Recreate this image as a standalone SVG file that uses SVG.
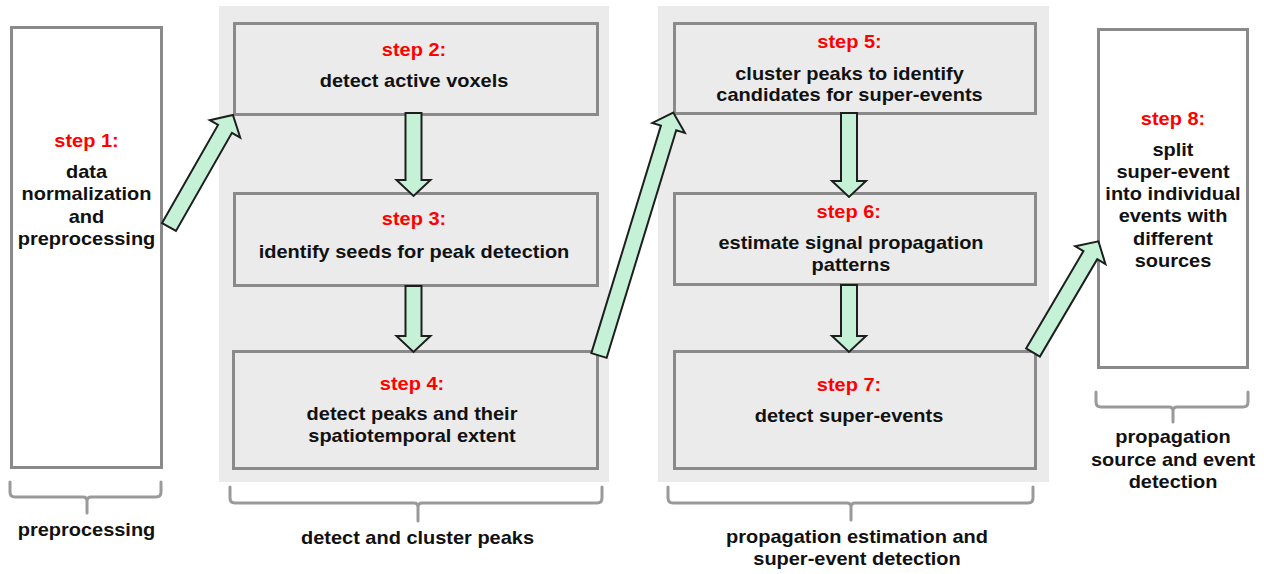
<svg xmlns="http://www.w3.org/2000/svg" width="1269" height="574" viewBox="0 0 1269 574">
  <style>
    .panel { fill: #ebebeb; stroke: none; }
    .box { fill: #ebebeb; stroke: #8a8a8a; stroke-width: 3; }
    .box-white { fill: #ffffff; stroke: #8a8a8a; stroke-width: 3; }
    .brace { fill: none; stroke: #9a9a9a; stroke-width: 3; stroke-linecap: round; stroke-linejoin: round; }
    .arrow { fill: #c5f2d7; stroke: #1e1e1e; stroke-width: 2; stroke-linejoin: miter; }
    text { font-family: "Liberation Sans", Arial, Helvetica, sans-serif; font-weight: bold; font-size: 18px; text-anchor: middle; fill: #111111; }
    .step { fill: #ff0000; }
  </style>

  <rect width="1269" height="574" fill="#ffffff"/>

  <!-- stage panels -->
  <g id="panels">
    <rect class="panel" x="219" y="6" width="390" height="476"/>
    <rect class="panel" x="658" y="6" width="391" height="476"/>
  </g>

  <!-- step 1 -->
  <g id="step1">
    <rect class="box-white" x="11.5" y="27.5" width="150" height="440"/>
    <g transform="translate(86.5,0) scale(1.11,1)">
      <text class="step" x="0" y="147">step 1:</text>
      <text x="0" y="178">data</text>
      <text x="0" y="200.5">normalization</text>
      <text x="0" y="223">and</text>
      <text x="0" y="245.5">preprocessing</text>
    </g>
  </g>

  <!-- step 2 -->
  <g id="step2">
    <rect class="box" x="234.5" y="23.5" width="363" height="91"/>
    <g transform="translate(414,0) scale(1.11,1)">
      <text class="step" x="0" y="56">step 2:</text>
      <text x="0" y="87">detect active voxels</text>
    </g>
  </g>

  <!-- step 3 -->
  <g id="step3">
    <rect class="box" x="234.5" y="193.5" width="363" height="92"/>
    <g transform="translate(414,0) scale(1.11,1)">
      <text class="step" x="0" y="225">step 3:</text>
      <text x="0" y="258">identify seeds for peak detection</text>
    </g>
  </g>

  <!-- step 4 -->
  <g id="step4">
    <rect class="box" x="233.5" y="351.5" width="364" height="117"/>
    <g transform="translate(412,0) scale(1.11,1)">
      <text class="step" x="0" y="390">step 4:</text>
      <text x="0" y="420.5">detect peaks and their</text>
      <text x="0" y="442.5">spatiotemporal extent</text>
    </g>
  </g>

  <!-- step 5 -->
  <g id="step5">
    <rect class="box" x="674.5" y="23.5" width="361" height="90"/>
    <g transform="translate(849.5,0) scale(1.11,1)">
      <text class="step" x="0" y="48.5">step 5:</text>
      <text x="0" y="80">cluster peaks to identify</text>
      <text x="0" y="101">candidates for super-events</text>
    </g>
  </g>

  <!-- step 6 -->
  <g id="step6">
    <rect class="box" x="674.5" y="193.5" width="361" height="91"/>
    <g transform="translate(851,0) scale(1.11,1)">
      <text class="step" x="-2" y="218">step 6:</text>
      <text x="0" y="249">estimate signal propagation</text>
      <text x="0" y="271">patterns</text>
    </g>
  </g>

  <!-- step 7 -->
  <g id="step7">
    <rect class="box" x="674.5" y="351.5" width="361" height="117"/>
    <g transform="translate(849,0) scale(1.11,1)">
      <text class="step" x="0" y="391">step 7:</text>
      <text x="0" y="422">detect super-events</text>
    </g>
  </g>

  <!-- step 8 -->
  <g id="step8">
    <rect class="box-white" x="1098.5" y="29.5" width="149" height="338"/>
    <g transform="translate(1173,0) scale(1.11,1)">
      <text class="step" x="0" y="125.5">step 8:</text>
      <text x="0" y="156.5">split</text>
      <text x="0" y="178.5">super-event</text>
      <text x="0" y="200.5">into individual</text>
      <text x="0" y="222.5">events with</text>
      <text x="0" y="245">different</text>
      <text x="0" y="267">sources</text>
    </g>
  </g>

  <!-- stage braces and captions -->
  <g id="stage-preprocessing">
    <path class="brace" d="M10,482 V492 Q10,497 15,497 H83 Q87,497 87,501 V513 M87,501 Q87,497 91,497 H156 Q161,497 161,492 V482"/>
    <g transform="translate(86.5,0) scale(1.11,1)">
      <text x="0" y="536">preprocessing</text>
    </g>
  </g>

  <g id="stage-peaks">
    <path class="brace" d="M230,487 V498 Q230,503 235,503 H414 Q418,503 418,507 V521 M418,507 Q418,503 422,503 H597 Q602,503 602,498 V487"/>
    <g transform="translate(417.5,0) scale(1.11,1)">
      <text x="0" y="544">detect and cluster peaks</text>
    </g>
  </g>

  <g id="stage-propagation">
    <path class="brace" d="M668,487 V498 Q668,503 673,503 H847 Q851,503 851,507 V520 M851,507 Q851,503 855,503 H1028 Q1033,503 1033,498 V487"/>
    <g transform="translate(857,0) scale(1.11,1)">
      <text x="0" y="543">propagation estimation and</text>
      <text x="0" y="565">super-event detection</text>
    </g>
  </g>

  <g id="stage-source">
    <path class="brace" d="M1096,392 V402 Q1096,407 1101,407 H1169 Q1173,407 1173,411 V422 M1173,411 Q1173,407 1177,407 H1243 Q1248,407 1248,402 V392"/>
    <g transform="translate(1173,0) scale(1.11,1)">
      <text x="0" y="443">propagation</text>
      <text x="0" y="466">source and event</text>
      <text x="0" y="488">detection</text>
    </g>
  </g>

  <!-- block arrows between steps -->
  <g id="connectors">
    <path class="arrow" transform="translate(169,227) rotate(-60.3)" d="M0,-8 H113 V-17.5 L129,0 L113,17.5 V8 H0 Z"/>
    <path class="arrow" transform="translate(413.5,113) rotate(90)" d="M0,-8 H67 V-17 L83,0 L67,17 V8 H0 Z"/>
    <path class="arrow" transform="translate(413.5,286) rotate(90)" d="M0,-8 H50 V-17 L66,0 L50,17 V8 H0 Z"/>
    <path class="arrow" transform="translate(599,355.5) rotate(-73)" d="M0,-8 H238 V-17 L254,0 L238,17 V8 H0 Z"/>
    <path class="arrow" transform="translate(849,113) rotate(90)" d="M0,-8 H68 V-17 L84,0 L68,17 V8 H0 Z"/>
    <path class="arrow" transform="translate(849,285) rotate(90)" d="M0,-8 H51 V-17 L67,0 L51,17 V8 H0 Z"/>
    <path class="arrow" transform="translate(1033,352.5) rotate(-59.5)" d="M0,-8 H113 V-17.5 L129,0 L113,17.5 V8 H0 Z"/>
  </g>
</svg>
